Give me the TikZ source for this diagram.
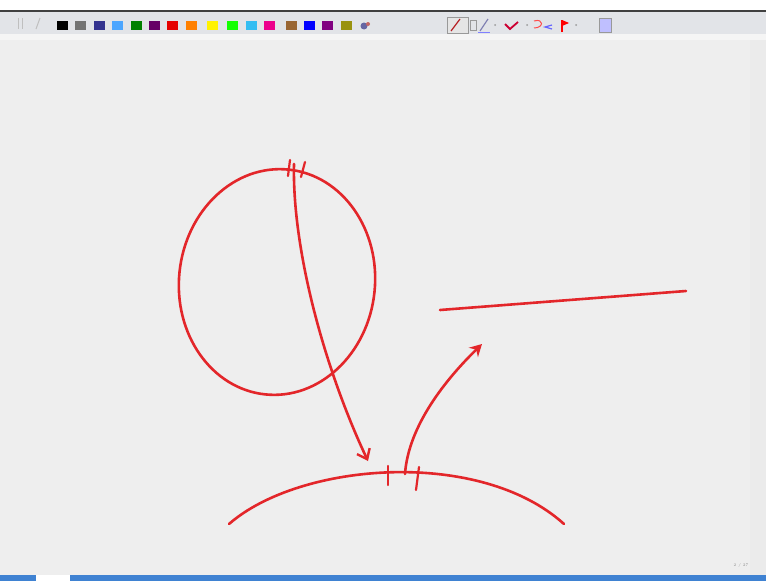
\documentclass[tikz,border=0pt]{standalone}
\usetikzlibrary{arrows.meta}
\definecolor{ink}{HTML}{E3262A}
\definecolor{canvas}{HTML}{EEEEEE}
\definecolor{tbar}{HTML}{E2E4E8}
\definecolor{bluebar}{HTML}{3F82D2}
\tikzset{
  stroke/.style={draw=ink, line width=2.6pt, line cap=round, line join=round},
  tickmark/.style={draw=ink, line width=2.2pt, line cap=round},
  swatch/.style={minimum width=11pt, minimum height=9pt, inner sep=0pt, draw=none},
}
\begin{document}
\begin{tikzpicture}[x=1pt,y=-1pt]
\useasboundingbox (0,0) rectangle (766,581);
% frame
\fill[canvas] (0,0) rectangle (766,581);
\fill[white] (0,0) rectangle (766,10);
\fill[black!75] (0,10) rectangle (766,12);
\fill[tbar] (0,12) rectangle (766,34);
\fill[white!96!black] (0,34) rectangle (766,40);
\fill[black!8] (750,40) rectangle (766,575);
\fill[bluebar] (0,575) rectangle (766,581);
\fill[white] (36,575) rectangle (70,581);
% toolbar left icons
\draw[black!25, line width=1pt] (18,18) -- (18,29) (22,18) -- (22,29);
\draw[black!25, line width=1pt] (36,29) -- (40,18);
% colour swatches
\foreach \x/\c in {62/black, 80/black!55, 99/blue!45!black!80, 117/blue!50!cyan!70, 136/green!50!black, 154/violet!80!black, 172/red!90!black, 191/orange, 212/yellow, 232/green!90!lime, 251/cyan!80, 269/magenta, 291/brown!80!black, 309/blue, 327/violet, 346/olive!90}
  \node[swatch, fill=\c] (sw\x) at (\x,25.5) {};
\fill[blue!40!black!60] (364,26) circle (3.5pt);
\fill[red!60!black!60] (368,24) circle (2pt);
% toolbar right icons
\draw[black!40, fill=black!10, line width=0.8pt] (447,17) rectangle (468,33);
\draw[ink!80!black, line width=1.2pt] (451,31) -- (460,19);
\draw[black!40, line width=0.8pt] (470,20) rectangle (476,30);
\draw[blue!40!black!50, line width=1.2pt] (480,31) -- (488,19);
\draw[blue!50, line width=1pt] (478,32) -- (490,32);
\fill[black!40] (495,25) circle (1pt);
\draw[red!60!violet, line width=1.8pt] (505,24) -- (510,29) -- (518,22);
\fill[black!40] (527,25) circle (1pt);
\draw[red!70, line width=1pt] (534,21) .. controls (544,18) and (544,28) .. (534,28);
\draw[blue!60, line width=1.2pt] (552,25) -- (545,27) -- (552,29);
\draw[red, line width=1.5pt] (562,32) -- (562,20);
\fill[red] (562,20) -- (569,23) -- (562,26) -- cycle;
\fill[black!40] (576,25) circle (1pt);
\draw[black!40, fill=blue!25, line width=0.8pt] (599,18) rectangle (611,32);
\node[font=\fontsize{4}{4}\selectfont, text=black!45, inner sep=0pt] (pg) at (741,565) {2 / 27};

% circle
\draw[stroke, rotate around={-6:(277,282)}] (277,282) ellipse [x radius=98, y radius=113];
% ticks on the circle
\draw[tickmark] (290,160) -- (288,176);
\draw[tickmark] (305,162) -- (301,177);
% arrow from circle down to the arc
\coordinate (dstart) at (294,164);
\coordinate (dend) at (368,461);
\draw[stroke, -{Straight Barb[length=9pt, width=14pt, line width=2.4pt]}]
  (dstart) .. controls (292,250) and (325,370) .. (dend);
% bottom arc
\coordinate (aleft) at (229,524);
\coordinate (aright) at (564,524);
\draw[stroke] (aleft) .. controls (300,462) and (480,448) .. (aright);
\draw[tickmark] (388,466) -- (388,485);
\draw[tickmark] (419,467) -- (416,490);
% arrow from arc up
\coordinate (ustart) at (405,474);
\coordinate (uend) at (482,344);
\draw[stroke, -{Stealth[length=12pt, width=13pt]}]
  (ustart) .. controls (408,430) and (440,385) .. (uend);
% straight line
\coordinate (la) at (440,310);
\coordinate (lb) at (686,291);
\draw[stroke] (la) -- (lb);
\end{tikzpicture}
\end{document}
